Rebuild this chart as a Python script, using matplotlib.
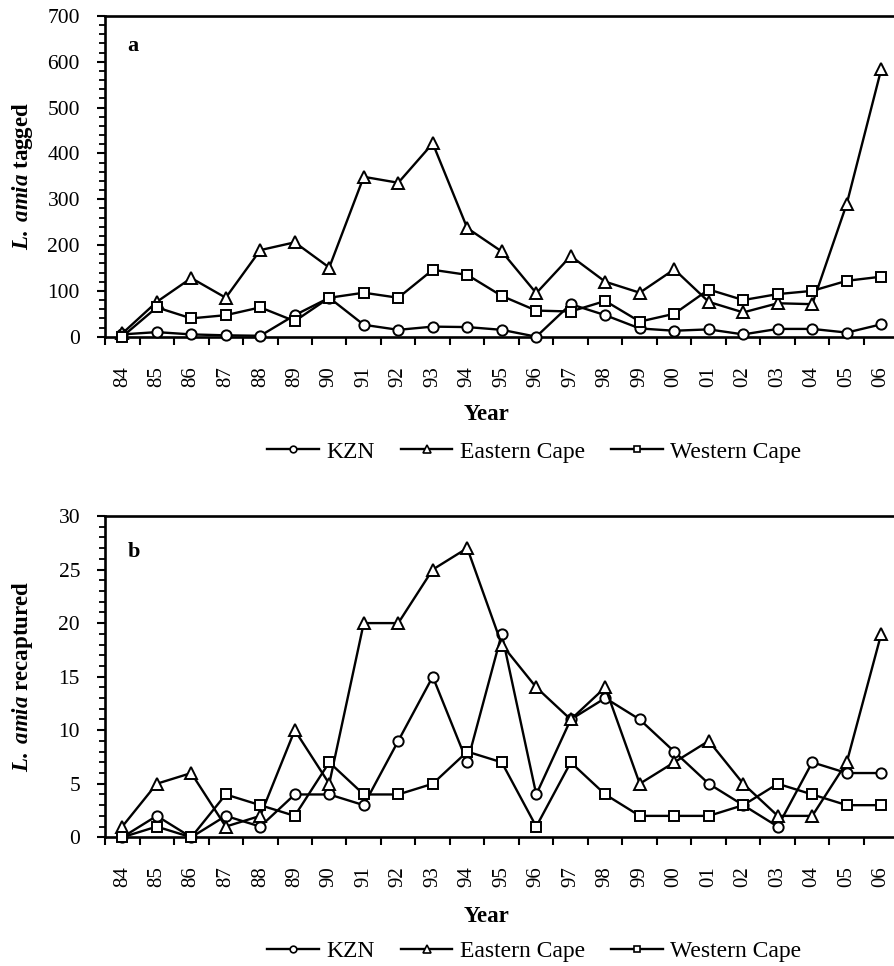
import matplotlib
matplotlib.use("Agg")
import matplotlib.pyplot as plt
from matplotlib.ticker import MultipleLocator, FixedLocator
import numpy as np

plt.rcParams['font.family'] = ['Liberation Serif', 'DejaVu Serif']
plt.rcParams['mathtext.fontset'] = 'custom'
plt.rcParams['mathtext.rm'] = 'Liberation Serif'
plt.rcParams['mathtext.it'] = 'Liberation Serif:italic'
plt.rcParams['mathtext.bf'] = 'Liberation Serif:bold'
plt.rcParams['mathtext.bfit'] = 'Liberation Serif:italic:bold'

years = ["84", "85", "86", "87", "88", "89", "90", "91", "92", "93", "94", "95",
         "96", "97", "98", "99", "00", "01", "02", "03", "04", "05", "06"]

tagged_kzn = [5, 10, 5, 3, 2, 47, 85, 26, 15, 22, 21, 15, 0, 71, 47, 18, 13, 16, 5, 17, 17, 9, 27]
tagged_ec = [7, 76, 128, 85, 189, 206, 151, 349, 336, 422, 237, 186, 95, 176, 120, 96, 147, 76, 53, 73, 71, 290, 584]
tagged_wc = [0, 64, 40, 47, 64, 34, 85, 96, 85, 146, 135, 89, 57, 55, 78, 33, 50, 103, 80, 93, 100, 122, 131]

recap_kzn = [0, 2, 0, 2, 1, 4, 4, 3, 9, 15, 7, 19, 4, 11, 13, 11, 8, 5, 3, 1, 7, 6, 6]
recap_ec = [1, 5, 6, 1, 2, 10, 5, 20, 20, 25, 27, 18, 14, 11, 14, 5, 7, 9, 5, 2, 2, 7, 19]
recap_wc = [0, 1, 0, 4, 3, 2, 7, 4, 4, 5, 8, 7, 1, 7, 4, 2, 2, 2, 3, 5, 4, 3, 3]

series_names = ["KZN", "Eastern Cape", "Western Cape"]
markers = ["o", "^", "s"]

W, H = 894, 966
fig = plt.figure(figsize=(W / 100, H / 100), dpi=100)

def px_axes(left, top, right, bottom):
    return fig.add_axes([left / W, 1 - bottom / H, (right - left) / W, (bottom - top) / H])

ax_a = px_axes(105, 16, 898.5, 336.7)
ax_b = px_axes(105, 516, 898.5, 837.3)

def style(ax, data, ymax, major, minor, ylabel, letter, letter_y):
    x = np.arange(len(years))
    for vals, name, m in zip(data, series_names, markers):
        ms = 8.4 if m == "^" else 7.4
        ax.plot(x, vals, color='black', lw=1.7, marker=m, markersize=ms,
                markerfacecolor='white', markeredgecolor='black',
                markeredgewidth=1.4, label=name, clip_on=False, zorder=3)
    ax.set_xlim(-0.5, len(years) - 0.5)
    ax.set_ylim(0, ymax)
    ax.yaxis.set_major_locator(MultipleLocator(major))
    ax.yaxis.set_minor_locator(MultipleLocator(minor))
    ax.xaxis.set_major_locator(FixedLocator(x))
    ax.xaxis.set_minor_locator(FixedLocator(np.arange(-0.5, len(years), 1.0)))
    ax.set_xticklabels(years, rotation=90)
    ax.tick_params(axis='x', which='major', length=0, pad=21, labelsize=15)
    ax.tick_params(axis='x', which='minor', length=6, width=1.5, direction='out')
    ax.tick_params(axis='y', which='major', length=6, width=1.5, direction='out', pad=12, labelsize=15.5)
    ax.tick_params(axis='y', which='minor', length=4, width=1.3, direction='out')
    for sp in ax.spines.values():
        sp.set_linewidth(1.9)
    fig.text(23 / W, ax.get_position().y0 + ax.get_position().height / 2, ylabel,
             rotation=90, ha='center', va='center', fontsize=16.5, fontweight='bold')
    ax.text(0.028, letter_y, letter, transform=ax.transAxes, fontsize=16, fontweight='bold',
            ha='left', va='center')

style(ax_a, [tagged_kzn, tagged_ec, tagged_wc], 700, 100, 20,
      r'$\mathbfit{L.\ amia}$ tagged', 'a', 0.906)
style(ax_b, [recap_kzn, recap_ec, recap_wc], 30, 5, 1,
      r'$\mathbfit{L.\ amia}$ recaptured', 'b', 0.889)

for ax, ylab, yleg in [(ax_a, 415, 452), (ax_b, 916, 951)]:
    fig.text(487 / W, 1 - ylab / H, "Year", ha='center', va='center', fontsize=16.5, fontweight='bold')
    leg_handles = []
    for m in markers:
        ms = 5.2 if m == "^" else 4.8
        h, = ax.plot([], [], color='black', lw=1.7, marker=m, markersize=ms,
                     markerfacecolor='white', markeredgecolor='black', markeredgewidth=1.2)
        leg_handles.append(h)
    fig.legend(leg_handles, series_names, loc='center', bbox_to_anchor=(534 / W, 1 - yleg / H),
               ncol=3, frameon=False, fontsize=17, handlelength=2.2, handletextpad=0.3,
               columnspacing=1.1, borderaxespad=0)

fig.savefig("out.png", dpi=100)
